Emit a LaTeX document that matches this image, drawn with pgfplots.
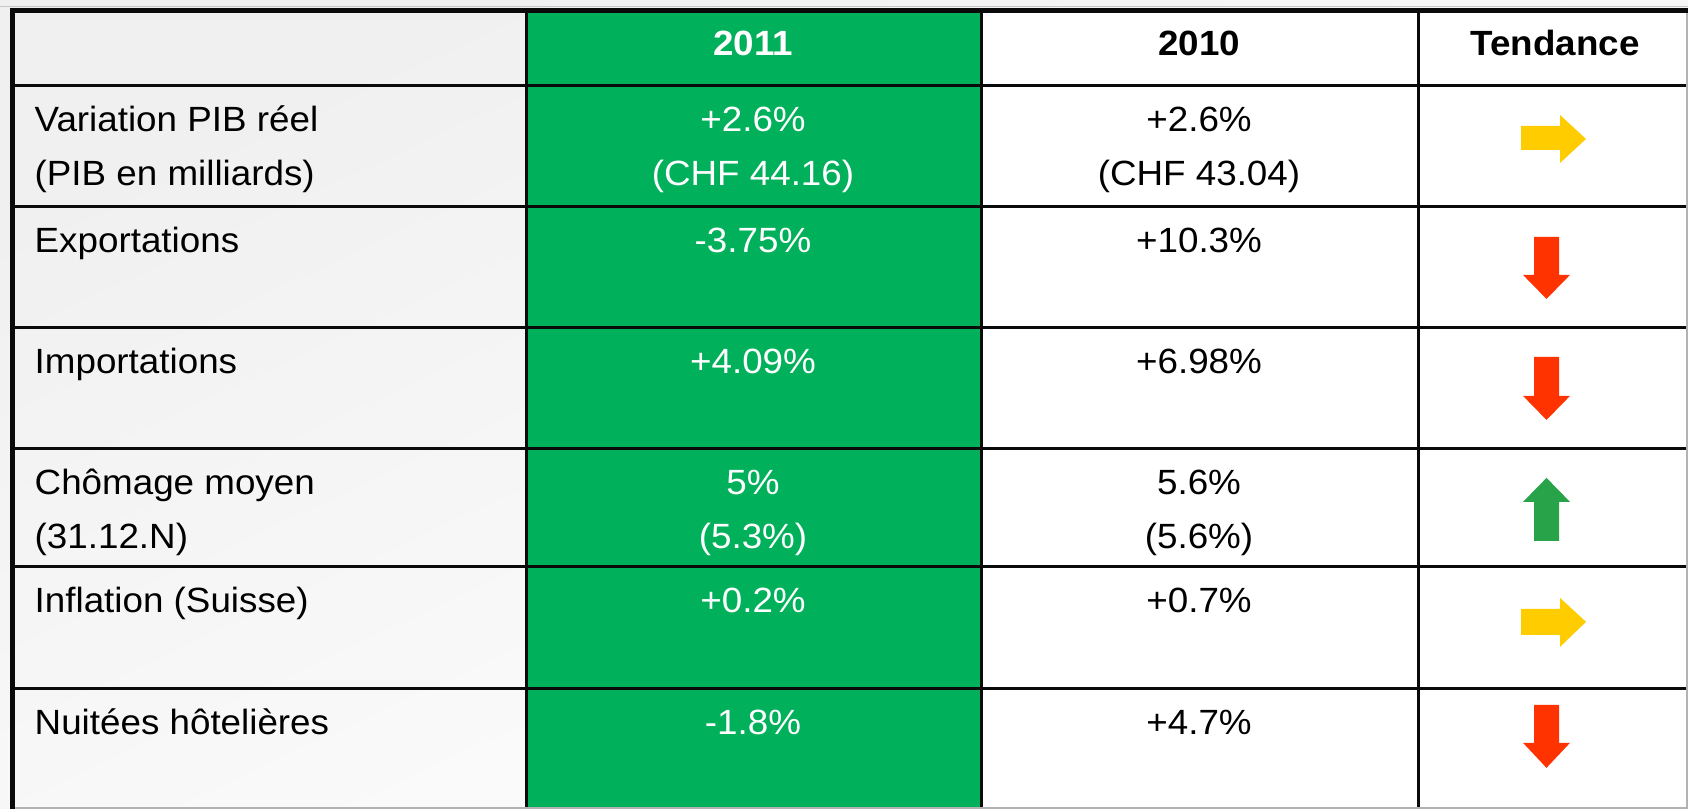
\documentclass[border=0pt]{standalone}
\usepackage{fontspec}
\setmainfont{Liberation Sans}[FakeStretch=1.05]
\usepackage{pgfplots}
\pgfplotsset{compat=1.18}
\definecolor{cellgreen}{HTML}{00B05A}
\definecolor{arrowyellow}{HTML}{FFCC00}
\definecolor{arrowred}{HTML}{FF3300}
\definecolor{arrowgreen}{HTML}{29A349}
\definecolor{ink}{HTML}{0A0A0A}
\tikzset{
  cell/.style={anchor=base, inner sep=0pt, font=\fontsize{10}{12}\selectfont},
  head/.style={cell, font=\fontsize{10}{12}\selectfont\bfseries},
  lab/.style={cell, anchor=base west},
}

\begin{document}
\begin{tikzpicture}
\begin{axis}[
  width=480bp, height=230bp, scale only axis,
  xmin=0, xmax=1688, ymin=0, ymax=809, y dir=reverse,
  axis lines=none, clip=false,
]
% slide background (faded texture)
\shade[top color=gray!12, bottom color=white, shading angle=25]
  (0,0) rectangle (1688,809);
\draw[gray!45, line width=0.1mm] (0,7) -- (1688,7);

% cell fills
\addplot[fill=white, draw=none] coordinates {(526,11) (1688,11) (1688,809) (526,809)} -- cycle;
\addplot[fill=cellgreen, draw=none] coordinates {(526,11) (981,11) (981,809) (526,809)} -- cycle;

% trend arrows
\addplot[fill=arrowyellow, draw=none] coordinates {(1521,126) (1560,126) (1560,115) (1586,139) (1560,163) (1560,150) (1521,150)} -- cycle;
\addplot[fill=arrowred, draw=none] coordinates {(1534,237) (1559,237) (1559,275) (1570,275) (1546.5,299) (1523,275) (1534,275)} -- cycle;
\addplot[fill=arrowred, draw=none] coordinates {(1534,357) (1559,357) (1559,396) (1570,396) (1546.5,420) (1523,396) (1534,396)} -- cycle;
\addplot[fill=arrowgreen, draw=none] coordinates {(1546.5,478) (1570,502) (1559,502) (1559,541) (1534,541) (1534,502) (1523,502)} -- cycle;
\addplot[fill=arrowyellow, draw=none] coordinates {(1521,609) (1560,609) (1560,598) (1586,622) (1560,647) (1560,635) (1521,635)} -- cycle;
\addplot[fill=arrowred, draw=none] coordinates {(1534,705) (1559,705) (1559,743) (1570,743) (1546.5,768) (1523,743) (1534,743)} -- cycle;

% grid
\draw[ink, line width=0.3mm] (12,86) -- (1688,86);
\draw[ink, line width=0.3mm] (12,207) -- (1688,207);
\draw[ink, line width=0.3mm] (12,328) -- (1688,328);
\draw[ink, line width=0.3mm] (12,449) -- (1688,449);
\draw[ink, line width=0.3mm] (12,567) -- (1688,567);
\draw[ink, line width=0.3mm] (12,689) -- (1688,689);
\draw[ink, line width=0.3mm] (526,11) -- (526,809);
\draw[ink, line width=0.3mm] (981,11) -- (981,809);
\draw[ink, line width=0.3mm] (1418,11) -- (1418,809);
\draw[gray!60, line width=0.15mm] (1687,11) -- (1687,808) -- (12,808);
\draw[ink, line width=0.5mm] (12.5,809) -- (12.5,11) -- (1688,11);

% header
\node[head, text=white] at (753,56) {2011};
\node[head] at (1199,56) {2010};
\node[head] at (1555,56) {Tendance};

% row labels
\node[lab] at (34,132) {Variation PIB réel};
\node[lab] at (34,186) {(PIB en milliards)};
\node[lab] at (34,253) {Exportations};
\node[lab] at (34,374) {Importations};
\node[lab] at (34,495) {Chômage moyen};
\node[lab] at (34,549) {(31.12.N)};
\node[lab] at (34,613) {Inflation (Suisse)};
\node[lab] at (34,735) {Nuitées hôtelières};

% 2011
\node[cell, text=white] at (753,132) {+2.6\%};
\node[cell, text=white] at (753,186) {(CHF 44.16)};
\node[cell, text=white] at (753,253) {-3.75\%};
\node[cell, text=white] at (753,374) {+4.09\%};
\node[cell, text=white] at (753,495) {5\%};
\node[cell, text=white] at (753,549) {(5.3\%)};
\node[cell, text=white] at (753,613) {+0.2\%};
\node[cell, text=white] at (753,735) {-1.8\%};

% 2010
\node[cell] at (1199,132) {+2.6\%};
\node[cell] at (1199,186) {(CHF 43.04)};
\node[cell] at (1199,253) {+10.3\%};
\node[cell] at (1199,374) {+6.98\%};
\node[cell] at (1199,495) {5.6\%};
\node[cell] at (1199,549) {(5.6\%)};
\node[cell] at (1199,613) {+0.7\%};
\node[cell] at (1199,735) {+4.7\%};
\end{axis}
\pgfresetboundingbox
\path[use as bounding box] (current axis.south west) rectangle (current axis.north east);
\end{tikzpicture}
\end{document}
